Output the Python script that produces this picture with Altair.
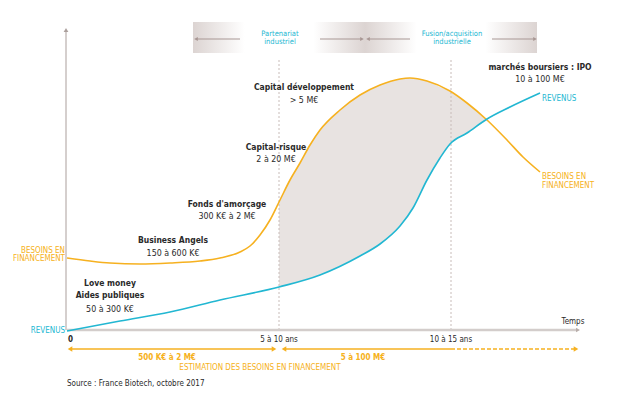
import altair as alt
import pandas as pd

# ---------------- data (schematic units: x = time, y = amount) ----------------
need_x = [0, 23, 43, 73, 103, 133, 153, 173, 183, 193, 203, 213, 223, 233, 243, 253,
          273, 293, 313, 333, 343, 360, 383, 400, 420, 440, 456, 473]
need_y = [72, 69, 67, 66, 67, 69, 72, 78, 84, 95, 110, 130, 150, 167, 185, 200,
          220, 235, 245, 251, 252, 249, 239, 227, 210, 190, 173, 158]
rev_x = [0, 53, 103, 153, 212, 253, 293, 313, 333, 346, 360, 373, 383, 400, 420, 443, 473]
rev_y = [-1, 9, 18, 30, 43, 55, 74, 86, 104, 122, 150, 172, 186, 197, 211, 223, 237]
gap_x = [212, 223, 233, 243, 253, 273, 293, 313, 333, 346, 360, 373, 383, 400, 420]
gap_top = [128, 150, 167, 185, 200, 220, 235, 245, 251, 252, 249, 243, 239, 227, 210]
gap_bottom = [43, 46, 49, 52, 55, 64, 74, 86, 104, 122, 150, 172, 186, 197, 210]

stage_x = [212, 384]
stage_labels = ["5 à 10 ans", "10 à 15 ans"]

bold_labels = ["Love money", "Aides publiques", "Business Angels", "Fonds d'amorçage",
               "Capital-risque", "Capital développement", "marchés boursiers : IPO"]
bold_x = [43, 43, 106, 160, 209, 237, 473]
bold_y = [47, 35, 90, 126, 183, 243, 263]
amount_labels = ["50 à 300 K€", "150 à 600 K€", "300 K€ à 2 M€", "2 à 20 M€", "> 5 M€", "10 à 100 M€"]
amount_x = [43, 106, 160, 209, 237, 473]
amount_y = [21, 77, 114, 171, 230, 251]

estimate_labels = ["500 K€ à 2 M€", "5 à 100 M€"]
estimate_x = [100, 296]

banner_labels = ["Partenariat", "industriel", "Fusion/acquisition", "industrielle"]
banner_lx = [213, 213, 385, 385]
banner_ly = [296, 288, 296, 288]
banner_x = [126, 298]
banner_x2 = [298, 470]

ORANGE = "#f6b120"
CYAN = "#22b7d2"
DARK = "#2a2a2a"
GREY = "#ab9f9c"
FONT = "DejaVu Sans Condensed, Liberation Sans Narrow, sans-serif"

XS = alt.Scale(domain=[-59, 545], nice=False, zero=False)
YS = alt.Scale(domain=[-58, 322], nice=False, zero=False)


def enc(ch, **extra):
    return ch.encode(x=alt.X("x:Q", scale=XS, axis=None),
                     y=alt.Y("y:Q", scale=YS, axis=None), **extra)


def txt(texts, xs, ys, **kw):
    df = pd.DataFrame({"t": texts, "x": xs, "y": ys})
    return enc(alt.Chart(df).mark_text(font=FONT, baseline="middle", **kw), text="t:N")


def rules(x, x2, y, y2, **kw):
    df = pd.DataFrame({"x": x, "x2": x2, "y": y, "y2": y2})
    return enc(alt.Chart(df).mark_rule(**kw), x2="x2:Q", y2="y2:Q")


def heads(xs, ys, shape, color, size):
    df = pd.DataFrame({"x": xs, "y": ys})
    return enc(alt.Chart(df).mark_point(shape=shape, filled=True, size=size,
                                        color=color, opacity=1))


# banner
grad = alt.Gradient(gradient="linear",
                    stops=[alt.GradientStop(color="#dcd4d2", offset=0),
                           alt.GradientStop(color="#ffffff", offset=0.3),
                           alt.GradientStop(color="#ffffff", offset=0.7),
                           alt.GradientStop(color="#dcd4d2", offset=1)],
                    x1=0, x2=1, y1=0, y2=0)
banner_df = pd.DataFrame({"x": banner_x, "x2": banner_x2, "y": [308, 308], "y2": [277, 277]})
banner = enc(alt.Chart(banner_df).mark_rect(fill=grad), x2="x2:Q", y2="y2:Q")
banner_arrows = rules([129, 253, 301, 425], [173, 295, 343, 468], [291] * 4, [291] * 4,
                      color="#a89794", strokeWidth=1)
banner_heads_l = heads([129, 301], [291, 291], "triangle-left", "#a89794", 18)
banner_heads_r = heads([295, 468], [291, 291], "triangle-right", "#a89794", 18)

# gap area
gap_df = pd.DataFrame({"x": gap_x, "y": gap_top, "y2": gap_bottom})
gap = enc(alt.Chart(gap_df).mark_area(color="#e8e3e1", interpolate="monotone"), y2="y2:Q")

# grid dashed
grid = rules(stage_x, stage_x, [0, 0], [270, 270], color="#c8bcb9", strokeWidth=1,
             strokeDash=[2, 2])

# axes
yaxis = rules([-1], [-1], [0], [298], color=GREY, strokeWidth=1)
yhead = heads([-1], [300], "triangle-up", GREY, 22)
xaxis = rules([0], [509], [0], [0], color="#d3cdcb", strokeWidth=2.5)
xhead = heads([511], [0], "triangle-right", "#b9aeab", 22)

# curves
need_df = pd.DataFrame({"x": need_x, "y": need_y})
rev_df = pd.DataFrame({"x": rev_x, "y": rev_y})
need = enc(alt.Chart(need_df).mark_line(color=ORANGE, strokeWidth=1.6, interpolate="monotone"))
rev = enc(alt.Chart(rev_df).mark_line(color=CYAN, strokeWidth=1.6, interpolate="monotone"))

# bottom estimate arrows
est1 = rules([3], [207], [-19], [-19], color=ORANGE, strokeWidth=1.3)
est2 = rules([217], [384], [-19], [-19], color=ORANGE, strokeWidth=1.3)
est3 = rules([384], [509], [-19], [-19], color=ORANGE, strokeWidth=1.3, strokeDash=[4, 2])
est_l = heads([3, 217], [-19, -19], "triangle-left", ORANGE, 28)
est_r = heads([207, 509], [-19, -19], "triangle-right", ORANGE, 28)

layers = [
    banner, banner_arrows, banner_heads_l, banner_heads_r,
    gap, grid, yaxis, yhead, xaxis, xhead, need, rev,
    est1, est2, est3, est_l, est_r,
    txt(banner_labels, banner_lx, banner_ly, color=CYAN, fontSize=7.5, align="center"),
    txt(bold_labels, bold_x, bold_y, color=DARK, fontSize=8.5, fontWeight="bold", align="center"),
    txt(amount_labels, amount_x, amount_y, color=DARK, fontSize=8.8, align="center"),
    txt(stage_labels, stage_x, [-10, -10], color=DARK, fontSize=8, align="center"),
    txt(["Temps"], [506], [8], color=DARK, fontSize=8, align="center"),
    txt(["0"], [1], [-10], color=DARK, fontSize=8, fontWeight="bold", align="left"),
    txt(["Source : France Biotech, octobre 2017"], [0], [-54], color=DARK, fontSize=8, align="left"),
    txt(["BESOINS EN", "FINANCEMENT"], [-2, -2], [79, 71], color=ORANGE, fontSize=8, align="right"),
    txt(["REVENUS"], [-2], [-1], color=CYAN, fontSize=8, align="right"),
    txt(["BESOINS EN", "FINANCEMENT"], [475, 475], [153, 144], color=ORANGE, fontSize=8, align="left"),
    txt(["REVENUS"], [475], [231], color=CYAN, fontSize=8, align="left"),
    txt(estimate_labels, estimate_x, [-28, -28], color=ORANGE, fontSize=8, fontWeight="bold", align="center"),
    txt(["ESTIMATION DES BESOINS EN FINANCEMENT"], [193], [-38], color=ORANGE, fontSize=8, align="center"),
]

chart = alt.layer(*layers).properties(
    width=604, height=380, padding=0,
    autosize=alt.AutoSizeParams(type="none"),
).configure_view(stroke=None)

chart.save("out.html", embed_options={"renderer": "svg", "actions": False})
